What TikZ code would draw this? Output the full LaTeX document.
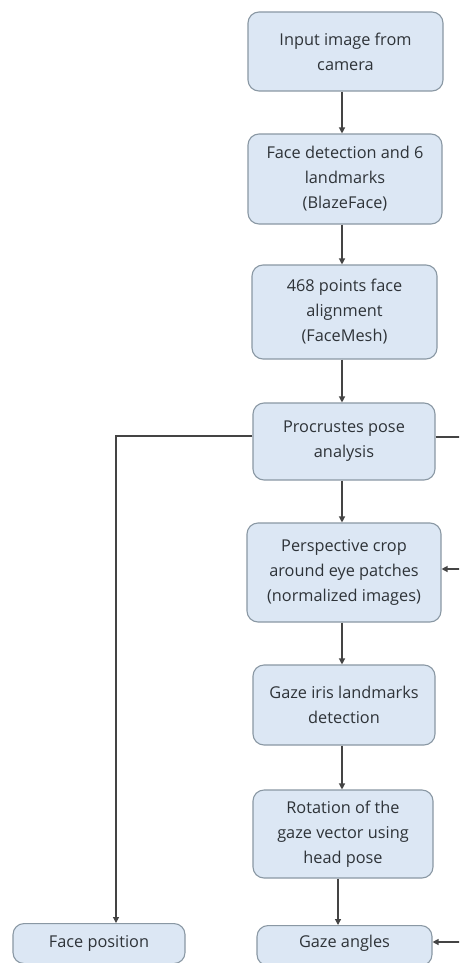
\documentclass[tikz,border=0pt]{standalone}
\usepackage{fontspec}
\setmainfont{Open Sans}
\usetikzlibrary{arrows.meta,calc}
\definecolor{boxfill}{HTML}{DCE7F4}
\definecolor{boxline}{HTML}{8A98A4}
\definecolor{txt}{HTML}{2E3338}
\definecolor{wire}{HTML}{444444}
\tikzset{
  stagefont/.style={font=\fontsize{16.3}{25}\selectfont},
  stage/.style={draw=boxline, line width=1.1pt, fill=boxfill, rounded corners=11pt,
    text=txt, align=center, inner sep=0pt, stagefont},
  wireline/.style={draw=wire, line width=1.2pt},
  arr/.style={wireline, -{Triangle[length=6pt,width=6pt]}}
}
\begin{document}
\begin{tikzpicture}[x=1pt,y=-1pt]
\useasboundingbox (0,0) rectangle (459,963);
\clip (0,0) rectangle (459,963);
\fill[white] (0,0) rectangle (459,963);

% main pipeline
\node[stage, minimum width=195pt, minimum height=79pt] (b1) at (345.5,51.5) {Input image from\\camera};
\node[stage, minimum width=194pt, minimum height=90pt] (b2) at (345,179) {Face detection and 6\\landmarks\\(BlazeFace)};
\node[stage, minimum width=185pt, minimum height=94pt] (b3) at (344.5,312) {468 points face\\alignment\\(FaceMesh)};
\node[stage, minimum width=182pt, minimum height=77pt] (b4) at (344,441.5) {Procrustes pose\\analysis};
\node[stage, minimum width=194pt, minimum height=99pt] (b5) at (344,572.5) {Perspective crop\\around eye patches\\(normalized images)};
\node[stage, minimum width=182pt, minimum height=80pt] (b6) at (344,705) {Gaze iris landmarks\\detection};
\node[stage, minimum width=180pt, minimum height=88pt] (b7) at (343,834) {Rotation of the\\gaze vector using\\head pose};
\node[stage, minimum width=175pt, minimum height=40pt, anchor=north] (b8) at (344.5,925) {};
\node[text=txt, stagefont] (t8) at (344.5,943) {Gaze angles};
\node[stage, minimum width=172pt, minimum height=40pt, anchor=north] (fp) at (99,923) {};
\node[text=txt, stagefont] (tfp) at (99,943) {Face position};

% connectors
\coordinate (ax) at (342,0);
\draw[arr] (b1.south -| ax) -- (b2.north -| ax);
\draw[arr] (b2.south -| ax) -- (b3.north -| ax);
\draw[arr] (b3.south -| ax) -- (b4.north -| ax);
\draw[arr] (b4.south -| ax) -- (b5.north -| ax);
\draw[arr] (b5.south -| ax) -- (b6.north -| ax);
\draw[arr] (b6.south -| ax) -- (b7.north -| ax);
\coordinate (ax2) at (338,0);
\draw[arr] (b7.south -| ax2) -- (b8.north -| ax2);

% pose branch to the face position
\coordinate (lt) at (116,436);
\draw[arr] (b4.west |- lt) -- (lt) -- (lt |- fp.north);

% pose branch along the right edge
\coordinate (rt) at (470,437);
\coordinate (r5) at (470,569);
\coordinate (r8) at (470,942);
\draw[wireline] (b4.east |- rt) -- (rt) -- (r8);
\draw[arr] (r5) -- (b5.east |- r5);
\draw[arr] (r8) -- (b8.east |- r8);
\end{tikzpicture}
\end{document}
